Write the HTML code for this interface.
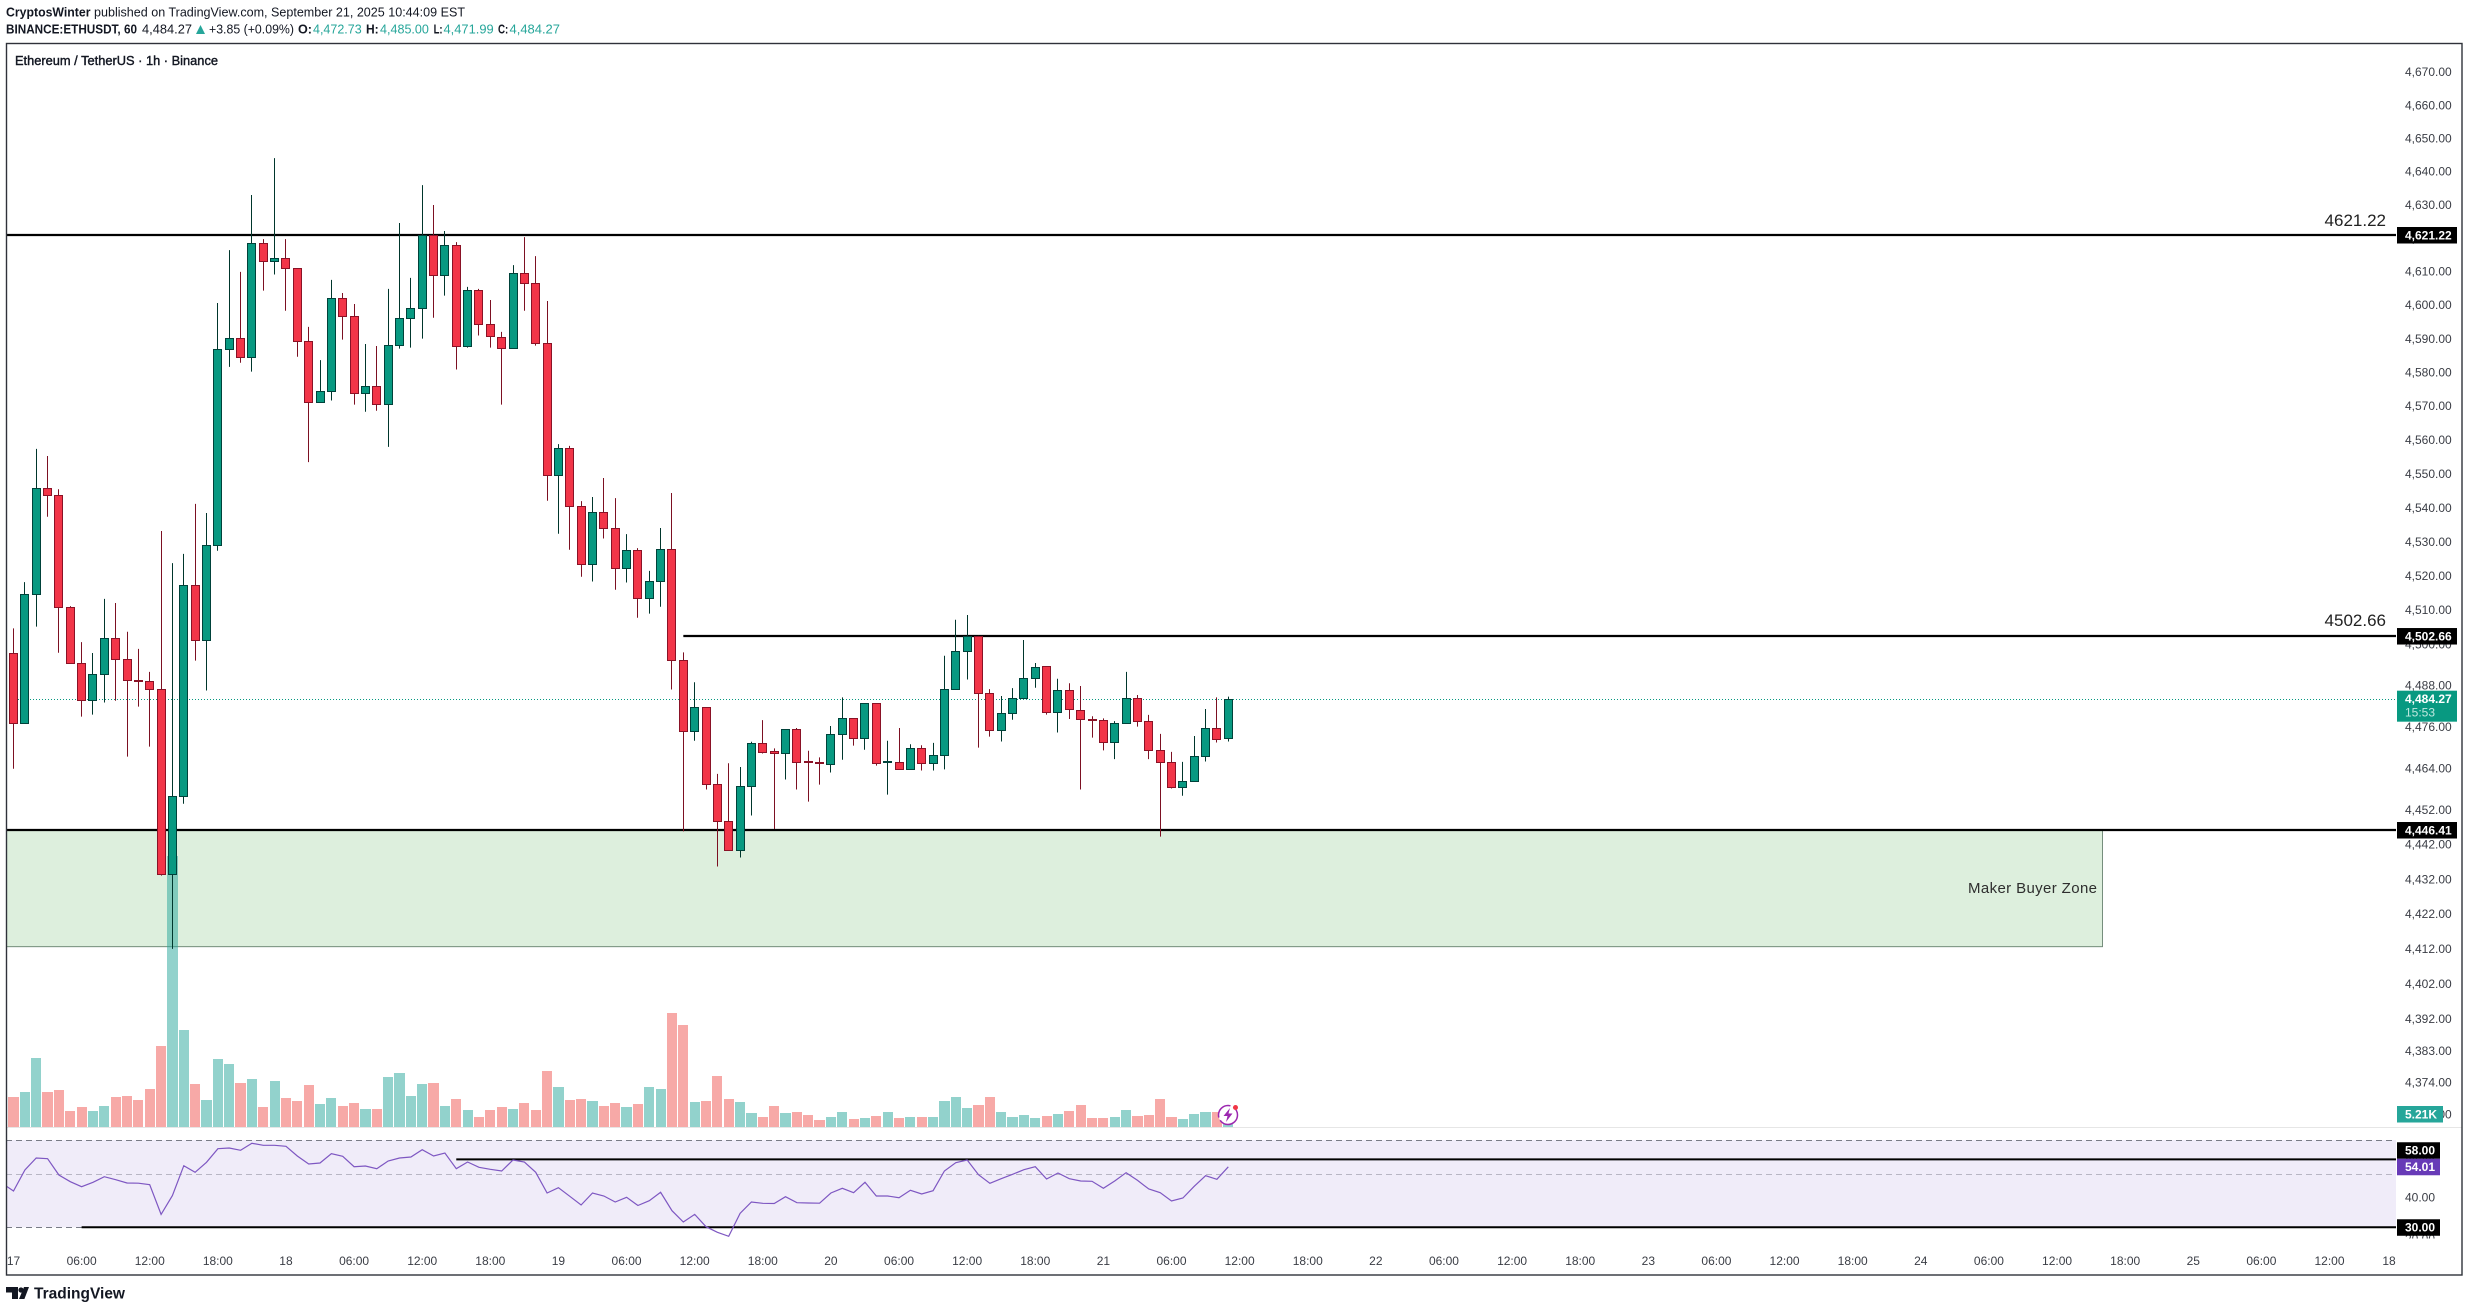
<!DOCTYPE html>
<html lang="en">
<head>
<meta charset="utf-8">
<title>Ethereum / TetherUS 1h chart</title>
<style>
html,body{margin:0;padding:0;background:#fff;width:2469px;height:1312px;overflow:hidden}
svg{display:block;font-family:"Liberation Sans",sans-serif}
.tick{font-size:12px;fill:#3a3d45}
.tag{font-size:12px;fill:#fff;font-weight:bold}
.hdr{font-size:12.5px;fill:#131722}
.hdrb{font-size:12.5px;fill:#131722;font-weight:bold}
.teal{font-size:12.5px;fill:#26a69a}
</style>
</head>
<body>
<svg id="chart" width="2469" height="1312" viewBox="0 0 2469 1312" xmlns="http://www.w3.org/2000/svg">
<defs><clipPath id="paneClip"><rect x="6" y="44" width="2390" height="1231"/></clipPath></defs>
<rect x="0" y="0" width="2469" height="1312" fill="#fff"/>

<g>
<text class="hdrb" x="6" y="16.5" textLength="84.5" lengthAdjust="spacingAndGlyphs">CryptosWinter</text>
<text class="hdr" x="94" y="16.5" textLength="371" lengthAdjust="spacingAndGlyphs">published on TradingView.com, September 21, 2025 10:44:09 EST</text>
</g>
<g>
<text class="hdrb" x="6" y="33.5" textLength="131" lengthAdjust="spacingAndGlyphs">BINANCE:ETHUSDT, 60</text>
<text class="hdr" x="142" y="33.5" textLength="50" lengthAdjust="spacingAndGlyphs">4,484.27</text>
<polygon points="196,34 205,34 200.5,25" fill="#26a69a"/>
<text class="hdr" x="209" y="33.5" textLength="85" lengthAdjust="spacingAndGlyphs">+3.85 (+0.09%)</text>
<text class="hdrb" x="298" y="33.5" textLength="14" lengthAdjust="spacingAndGlyphs">O:</text>
<text class="teal" x="313" y="33.5" textLength="48.7" lengthAdjust="spacingAndGlyphs">4,472.73</text>
<text class="hdrb" x="366" y="33.5" textLength="12.7" lengthAdjust="spacingAndGlyphs">H:</text>
<text class="teal" x="380" y="33.5" textLength="48.9" lengthAdjust="spacingAndGlyphs">4,485.00</text>
<text class="hdrb" x="433.6" y="33.5" textLength="9" lengthAdjust="spacingAndGlyphs">L:</text>
<text class="teal" x="443.5" y="33.5" textLength="50.2" lengthAdjust="spacingAndGlyphs">4,471.99</text>
<text class="hdrb" x="498" y="33.5" textLength="10.3" lengthAdjust="spacingAndGlyphs">C:</text>
<text class="teal" x="509.5" y="33.5" textLength="50.5" lengthAdjust="spacingAndGlyphs">4,484.27</text>
</g>

<text x="15" y="65" font-size="12.5" fill="#131722" stroke="#131722" stroke-width="0.4" textLength="203" lengthAdjust="spacingAndGlyphs">Ethereum / TetherUS · 1h · Binance</text>

<g id="priceTicks"></g>
<g id="rsiTicks"></g>
<rect x="2400" y="1238.5" width="60" height="12" fill="#fff"/>
<g id="timeTicks"></g>

<g id="plot" clip-path="url(#paneClip)">
<g id="rsiPane"></g>
<g id="zoneLayer"></g>
<g id="lastLine"></g>
<g id="drawings"></g>
<g id="volume"></g>
<g id="candles"></g>
</g>

<line x1="6" x2="2462" y1="1127.5" y2="1127.5" stroke="#e6e6e6" stroke-width="1"/>

<g>
<circle cx="1228" cy="1115" r="9.5" fill="#fff" stroke="#9c27b0" stroke-width="1.5" stroke-dasharray="24 3 20 3"/>
<polygon points="1230,1108 1223.5,1116 1227.5,1116 1226,1122 1232.5,1113.5 1228.5,1113.5" fill="#9c27b0"/>
<circle cx="1235.5" cy="1107.5" r="2.5" fill="#f23645"/>
</g>

<text x="1968" y="893" font-size="15" fill="#2e2e2e" textLength="129" lengthAdjust="spacing">Maker Buyer Zone</text>
<text x="2386" y="226" text-anchor="end" font-size="17" fill="#222">4621.22</text>
<text x="2386" y="626" text-anchor="end" font-size="17" fill="#222">4502.66</text>

<g id="tags"></g>

<rect x="6.5" y="43.5" width="2455.5" height="1231.5" fill="none" stroke="#2f323a" stroke-width="1.4"/>

<g>
<path d="M6 1287h12v12h-6v-6.5H6z" fill="#131722"/>
<circle cx="21" cy="1290" r="2.6" fill="#131722"/>
<path d="M24 1287h5l-4.6 12h-5.4z" fill="#131722"/>
<text x="34" y="1298.5" font-size="15.5" font-weight="bold" fill="#131722" textLength="91" lengthAdjust="spacingAndGlyphs">TradingView</text>
</g>
</svg>

<script>
const candleOpen=[4497.6,4477.3,4514.9,4546.0,4543.9,4511.1,4494.7,4483.8,4491.5,4502.0,
4495.9,4489.8,4489.5,4487.2,4433.7,4456.2,4517.5,4501.4,4529.2,4587.1,
4590.4,4584.7,4618.7,4613.4,4614.3,4611.3,4589.5,4571.4,4574.7,4602.3,
4596.9,4574.1,4576.1,4570.8,4588.3,4596.3,4599.3,4621.2,4609.2,4618.1,
4588.0,4604.7,4594.6,4590.7,4587.4,4609.8,4606.8,4588.9,4549.8,4557.8,
4540.7,4523.6,4538.9,4534.2,4522.5,4527.8,4513.7,4518.7,4528.1,4495.6,
4475.0,4481.9,4459.6,4449.0,4440.6,4459.1,4471.5,4469.0,4468.6,4475.5,
4466.1,4465.8,4465.4,4474.1,4478.7,4472.9,4483.1,4465.9,4466.0,4464.0,
4470.0,4465.7,4468.0,4487.2,4498.2,4502.6,4486.0,4475.3,4480.2,4484.5,
4490.4,4493.9,4480.5,4486.9,4481.1,4478.4,4478.2,4471.8,4477.3,4484.5,
4477.9,4469.5,4466.0,4458.8,4460.5,4467.7,4475.8,4472.73];
const candleHigh=[4504.9,4518.4,4557.6,4555.5,4545.7,4511.4,4500.9,4497.7,4513.5,4512.3,
4503.9,4498.9,4492.2,4533.4,4524.0,4526.7,4541.4,4538.7,4600.9,4616.7,
4610.2,4633.2,4620.0,4644.3,4620.0,4611.3,4593.8,4583.9,4607.8,4603.9,
4600.6,4588.7,4588.1,4605.1,4624.8,4608.4,4636.2,4630.2,4622.4,4619.1,
4605.7,4605.1,4601.8,4592.3,4612.2,4620.6,4614.9,4601.5,4559.0,4558.5,
4542.2,4543.4,4549.0,4543.1,4532.5,4528.4,4521.7,4534.3,4544.6,4497.9,
4489.2,4481.9,4462.6,4465.7,4464.6,4471.9,4478.2,4470.0,4475.5,4475.9,
4469.3,4467.4,4476.5,4484.8,4478.7,4483.1,4483.1,4472.2,4475.9,4471.2,
4470.9,4471.6,4496.9,4507.4,4508.8,4502.7,4487.2,4485.2,4487.5,4501.5,
4494.8,4493.9,4490.2,4488.9,4488.1,4479.3,4478.7,4477.9,4492.2,4485.5,
4479.7,4474.2,4469.0,4466.1,4473.6,4481.4,4484.8,4485.0];
const candleLow=[4464.1,4477.3,4505.4,4537.6,4497.8,4494.7,4479.2,4479.8,4483.3,4483.8,
4467.6,4482.1,4470.5,4433.3,4412.3,4454.0,4495.5,4486.8,4527.6,4581.9,
4583.1,4580.5,4604.6,4609.4,4598.6,4584.9,4553.7,4571.4,4571.9,4590.0,
4570.7,4568.6,4568.9,4558.2,4587.3,4587.6,4590.3,4596.5,4603.1,4581.1,
4587.6,4591.2,4587.6,4570.7,4587.4,4598.6,4588.2,4542.3,4532.6,4527.9,
4520.0,4518.6,4531.2,4516.2,4518.3,4508.0,4509.2,4511.2,4487.1,4446.0,
4472.2,4458.1,4435.9,4440.6,4438.5,4450.6,4468.5,4446.7,4461.0,4458.1,
4454.6,4459.5,4463.0,4466.7,4470.8,4469.6,4465.0,4456.6,4464.0,4464.0,
4463.6,4463.6,4463.9,4487.2,4490.0,4470.2,4473.4,4472.0,4478.3,4484.5,
4487.6,4479.8,4474.6,4478.5,4458.1,4473.1,4469.4,4466.9,4477.3,4476.3,
4466.9,4444.5,4458.4,4456.3,4460.5,4466.2,4471.7,4471.99];
const candleClose=[4477.3,4514.9,4546.0,4543.8,4511.0,4494.7,4483.8,4491.5,4502.0,4495.9,
4489.8,4489.4,4487.2,4433.7,4456.2,4517.5,4501.4,4529.2,4587.1,4590.4,
4584.7,4618.7,4613.4,4614.3,4611.3,4589.5,4571.4,4574.7,4602.3,4596.9,
4574.1,4576.1,4570.8,4588.3,4596.3,4599.3,4621.2,4609.2,4618.1,4588.0,
4604.7,4594.6,4591.0,4587.4,4609.8,4606.8,4588.9,4549.8,4557.8,4540.7,
4523.6,4538.9,4534.2,4522.5,4527.8,4513.7,4518.7,4528.1,4495.6,4475.0,
4481.9,4459.6,4449.0,4440.6,4459.1,4471.5,4468.8,4468.6,4475.5,4466.0,
4465.9,4465.6,4474.1,4478.7,4472.9,4483.1,4465.7,4466.1,4464.0,4470.0,
4465.7,4468.0,4487.2,4498.2,4502.6,4486.0,4475.3,4480.2,4484.5,4490.4,
4493.6,4480.5,4486.9,4481.4,4478.4,4478.2,4471.8,4477.3,4484.5,4477.9,
4469.5,4466.0,4458.8,4460.5,4467.7,4475.8,4472.7,4484.27];
const volumeK=[12,14,27.6,14,14.8,6.4,8,6.4,8.4,12,12.4,10.8,15.2,32.4,108.4,38.8,17.2,10.8,27.2,25.2,
17.6,19.2,8,18.4,11.6,10.4,16.8,9.2,11.6,8.4,9.6,7.2,7.2,20,21.6,12.4,17.2,17.6,8.4,11.2,
6.8,4,6.8,8,7.2,9.6,6.8,22.4,16,10.8,11.2,10.4,8.4,9.6,8,9.2,
16,15.2,45.6,40.8,10,10.4,20.4,11.2,10,5.6,4,8.4,5.6,6,4.8,2.8,4,6,3.2,3.6,4.4,6,3.6,4,
4,4,10.4,12,7.6,8.8,12,6,4,4.8,3.6,4.4,5.2,6.4,8.8,3.6,3.6,4,6.8,4.4,4.8,11.2,4,3.2,5.2,6,6,5.21];
const rsiFirst=45.97;
const rsiValues=[42.67,52.34,58.81,58.43,49.85,46.73,44.51,46.43,49.05,47.64,46.13,46.05,45.39,34.01,40.79,54.59,51.16,56.39,64.39,64.81,
63.36,67.82,66.51,66.51,65.87,59.96,55.48,56.02,61.34,59.77,54.06,54.41,53.02,57.12,58.81,59.38,63.77,59.96,61.74,53.02,
56.57,53.71,52.68,51.83,57.68,56.57,51.16,41.85,44.08,40.52,37.25,41.85,40.65,38.35,40.13,37.07,38.85,42.13,35.25,31.58,
34.01,30.17,28.56,27.47,34.35,38.35,37.86,37.79,40.39,38.10,37.98,37.92,41.85,43.79,41.99,46.43,40.65,40.65,40.00,42.96,
41.45,42.81,51.83,56.20,57.68,50.00,45.97,48.11,50.18,52.50,54.06,47.95,50.83,48.11,47.03,46.88,43.79,47.03,51.00,47.34,
43.51,41.99,38.73,39.87,44.65,49.53,47.80,54.01];
const priceTickValues=[4670,4660,4650,4640,4630,4620,4610,4600,4590,4580,4570,4560,4550,4540,4530,4520,4510,4500,4488,4476,4464,4452,4442,4432,4422,4412,4402,4392,4383,4374,4365];
const rsiTickValues=[60,40];
const rsiBandValues=[70,50,30];
const timeTickLabels=["17","06:00","12:00","18:00","18","06:00","12:00","18:00","19","06:00","12:00","18:00","20","06:00","12:00","18:00","21","06:00","12:00","18:00","22","06:00","12:00","18:00","23","06:00","12:00","18:00","24","06:00","12:00","18:00","25","06:00","12:00","18"];
const levelPrices=[4621.22,4502.66,4446.41];
const levelStartHours=[-1,59,-1];
const zoneTop=4446.41;
const zoneBottom=4412.9;
const zoneEndHour=184;
const rsiLevels=[58,30];
const rsiLevelStartHours=[39,6];
const lastPrice=4484.27;
const lastVolumeText="5.21K";

const NS="http://www.w3.org/2000/svg";
const xOf=h=>13.5+11.353*h;
const yPrice=p=>235+15430*Math.log(4621.22/p);
const yVol=v=>1127-v*2.5;
const yRsi=r=>1174.7-102.9*Math.log(r/50);
const fmt=p=>p.toLocaleString("en-US",{minimumFractionDigits:2,maximumFractionDigits:2});
const snap=v=>Math.floor(v)+0.5;
const $=id=>document.getElementById(id);
function mk(tag,parent,props,text){
  const el=document.createElementNS(NS,tag);
  for(const k in props)el.setAttribute(k,props[k]);
  if(text!==undefined)el.textContent=text;
  parent.appendChild(el);
  return el;
}

priceTickValues.forEach(p=>{
  const t=mk("text",$("priceTicks"),{x:2405,y:yPrice(p)+3.2,class:"tick"},fmt(p));
  
  
});
rsiTickValues.forEach(r=>{
  const t=mk("text",$("rsiTicks"),{x:2405,y:yRsi(r)+4,class:"tick"},r.toFixed(2));
  
  
});
const t20=mk("text",$("rsiTicks"),{x:2405,y:1243,class:"tick"},"20.00");



timeTickLabels.forEach((s,k)=>{
  const t=mk("text",$("timeTicks"),{x:Math.min(xOf(k*6),2389),y:1265,class:"tick","text-anchor":"middle"},s);
  
  
});

const band=mk("rect",$("rsiPane"),{x:6,y:yRsi(rsiBandValues[0]),width:2390,height:yRsi(rsiBandValues[2])-yRsi(rsiBandValues[0]),fill:"#f0ecf9"});


rsiBandValues.forEach((r,k)=>{
  const l=mk("line",$("rsiPane"),{x1:6,x2:2396,y1:snap(yRsi(r)),y2:snap(yRsi(r)),stroke:k===1?"#b8b6c4":"#787b86","stroke-width":1,"stroke-dasharray":"6 4"});
  
  
});
rsiLevels.forEach((r,k)=>{
  const l=mk("line",$("rsiPane"),{x1:xOf(rsiLevelStartHours[k]),x2:2396,y1:yRsi(r),y2:yRsi(r),stroke:"#000","stroke-width":2});
  
  
});
let rsiPts=xOf(-1)+","+yRsi(rsiFirst);
rsiValues.forEach((r,i)=>{rsiPts+=" "+xOf(i).toFixed(1)+","+yRsi(r).toFixed(1);});
const rl=mk("polyline",$("rsiPane"),{points:rsiPts,fill:"none",stroke:"#7e57c2","stroke-width":1.2});



const zone=mk("rect",$("zoneLayer"),{x:5,y:yPrice(zoneTop),width:xOf(zoneEndHour)-5,height:yPrice(zoneBottom)-yPrice(zoneTop),fill:"#ddefdd",stroke:"#56735f","stroke-width":0.8});



const cur=mk("line",$("lastLine"),{x1:6,x2:2396,y1:snap(yPrice(lastPrice)),y2:snap(yPrice(lastPrice)),stroke:"#089981","stroke-width":1,"stroke-dasharray":"1 2"});



levelPrices.forEach((p,k)=>{
  const y=yPrice(p);
  const l=mk("line",$("drawings"),{x1:levelStartHours[k]<0?6:xOf(levelStartHours[k]),x2:2396,y1:y,y2:y,stroke:"#000","stroke-width":2.2});
  
  
});

volumeK.forEach((v,i)=>{
  const up=candleClose[i]>=candleOpen[i];
  const x0=Math.round(xOf(i)-5.1),x1=Math.round(xOf(i)+5.1);
  const b=mk("rect",$("volume"),{x:x0,y:yVol(v),width:x1-x0,height:1127-yVol(v),fill:up?"rgba(38,166,154,.5)":"rgba(239,83,80,.5)"});
  
  
});

candleOpen.forEach((o,i)=>{
  const c=candleClose[i],up=c>=o;
  const cx=snap(xOf(i));
  const top=snap(yPrice(Math.max(o,c))),bot=snap(yPrice(Math.min(o,c)));
  const edge=up?"#00423a":"#8a1226",fill=up?"#089981":"#f23548",wick=up?"#00362c":"#7c1022";
  const g=mk("g",$("candles"),{});
  
  
  mk("line",g,{x1:cx,x2:cx,y1:yPrice(candleHigh[i]),y2:yPrice(candleLow[i]),stroke:wick,"stroke-width":1});
  mk("rect",g,{x:cx-4,y:top,width:8,height:Math.max(bot-top,1),fill:fill,stroke:edge,"stroke-width":1});
});

function tag(name,x,y,w,h,bg,lines){
  const g=mk("g",$("tags"),{});
  
  
  mk("rect",g,{x:x,y:y,width:w,height:h,fill:bg});
  lines.forEach(L=>{
    const t=mk("text",g,{x:2405,y:L.y,class:"tag"},L.s);
    if(L.c)t.setAttribute("style","fill:"+L.c+";font-weight:normal");
  });
}
levelPrices.forEach(p=>{
  const y=yPrice(p);
  tag('price-tag',2397,y-8,60,16.5,"#000",[{s:fmt(p),y:y+4.4}]);
});
const ly=yPrice(lastPrice);
tag('last-price-tag',2397,ly-8.5,60,31,"#089981",[{s:fmt(lastPrice),y:ly+3.8},{s:"15:53",y:ly+17.5,c:"#bfe8df"}]);
tag('volume-tag',2397,1106,46,16.5,"#26a69a",[{s:lastVolumeText,y:1118.5}]);
// The upper RSI tag sits just above the live value tag, as the axis stacks colliding labels.
const ry=yRsi(rsiValues[rsiValues.length-1]);
const rsiValueTop=ry-8;
rsiLevels.forEach(r=>{
  const y=yRsi(r);
  const top=(y-8<rsiValueTop+16.5&&y-8+16.5>rsiValueTop)?rsiValueTop-16.5:y-8;
  tag('rsi-level-tag',2397,top,43,16.5,"#000",[{s:r.toFixed(2),y:top+12.4}]);
});
tag('rsi-value-tag',2397,rsiValueTop,43,16.5,"#673ab7",[{s:rsiValues[rsiValues.length-1].toFixed(2),y:ry+4.4}]);
</script>
</body>
</html>
